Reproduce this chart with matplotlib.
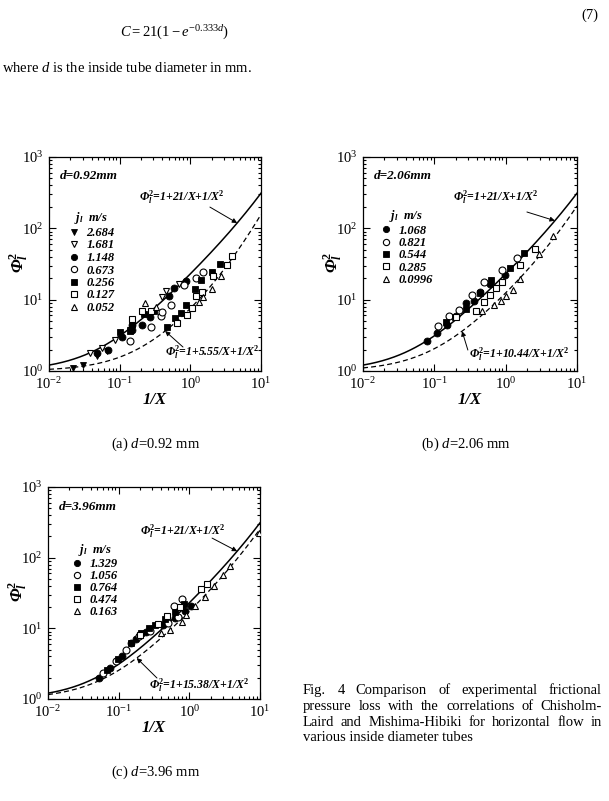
import numpy as np
import matplotlib
matplotlib.use('Agg')
import matplotlib.pyplot as plt
from matplotlib.font_manager import FontProperties
from matplotlib.ticker import LogLocator, NullFormatter

plt.rcParams['font.family'] = ['Liberation Serif', 'DejaVu Serif']
plt.rcParams['mathtext.fontset'] = 'custom'
plt.rcParams['mathtext.rm'] = 'Liberation Serif'
plt.rcParams['mathtext.it'] = 'Liberation Serif:italic'
plt.rcParams['mathtext.bf'] = 'Liberation Serif:bold'
plt.rcParams['mathtext.bfit'] = 'Liberation Serif:italic:bold'

# ---------------- data: panel (a) d=0.92 mm ----------------
a_2684_x = [0.022, 0.030, 0.048, 0.067]
a_2684_y = [1.09, 1.2, 1.6, 1.9]
a_1681_x = [0.038, 0.056, 0.087, 0.14, 0.40, 0.45, 0.69]
a_1681_y = [1.76, 2.13, 2.74, 3.75, 11.0, 13.2, 16.7]
a_1148_x = [0.048, 0.068, 0.107, 0.15, 0.15, 0.21, 0.27, 0.50, 0.59, 0.86]
a_1148_y = [1.81, 1.96, 3.02, 3.75, 4.46, 4.46, 5.66, 11.1, 14.7, 18.3]
a_0673_x = [0.14, 0.28, 0.38, 0.40, 0.53, 0.81, 1.19, 1.51]
a_0673_y = [2.6, 4.2, 5.9, 6.7, 8.3, 16.3, 20.3, 24.2]
a_0256_x = [0.102, 0.142, 0.15, 0.22, 0.31, 0.46, 0.60, 0.74, 0.87, 1.18, 1.40, 2.05, 2.63]
a_0256_y = [3.55, 3.67, 4.55, 6.2, 6.9, 4.2, 5.5, 6.4, 8.4, 14.2, 18.6, 24.5, 32.1]
a_0127_x = [0.148, 0.21, 0.28, 0.65, 0.89, 1.07, 1.19, 1.45, 2.1, 3.3, 3.9]
a_0127_y = [5.4, 7.0, 7.0, 4.65, 6.0, 7.7, 11.1, 12.7, 21.3, 31.0, 41.5]
a_0052_x = [0.23, 0.33, 1.32, 1.53, 2.05, 2.75]
a_0052_y = [8.9, 8.0, 9.2, 10.8, 13.9, 21.2]

# ---------------- data: panel (b) d=2.06 mm ----------------
b_1068_x = [0.078, 0.109, 0.15, 0.20, 0.28, 0.355, 0.44, 0.60, 0.98]
b_1068_y = [2.65, 3.4, 4.4, 5.97, 9.0, 9.7, 12.8, 16.4, 21.9]
b_0821_x = [0.113, 0.16, 0.22, 0.34, 0.49, 0.90, 1.45]
b_0821_y = [4.3, 5.85, 7.2, 11.8, 17.7, 25.9, 38.5]
b_0544_x = [0.146, 0.197, 0.28, 0.44, 0.63, 1.15, 1.80]
b_0544_y = [4.8, 5.7, 7.3, 12.4, 18.7, 28.1, 44.5]
b_0285_x = [0.20, 0.39, 0.49, 0.61, 0.74, 0.89, 1.58, 2.6]
b_0285_y = [5.7, 6.9, 9.4, 11.8, 14.7, 17.9, 30.4, 52.0]
b_00996_x = [0.47, 0.68, 0.87, 1.02, 1.26, 1.58, 2.9, 4.6]
b_00996_y = [6.9, 8.5, 9.7, 11.1, 13.5, 19.6, 43.5, 78.0]

# ---------------- data: panel (c) d=3.96 mm ----------------
c_1329_x = [0.052, 0.075, 0.11, 0.15, 0.178, 0.245, 0.43, 0.62, 0.86, 1.07]
c_1329_y = [2.0, 2.73, 4.1, 6.2, 7.1, 8.8, 11.0, 14.0, 17.4, 20.5]
c_1056_x = [0.061, 0.091, 0.126, 0.195, 0.276, 0.50, 0.69, 0.60, 0.78]
c_1056_y = [2.37, 3.4, 4.98, 7.9, 9.1, 11.9, 14.5, 20.6, 25.8]
c_0764_x = [0.069, 0.098, 0.15, 0.21, 0.27, 0.33, 0.45, 0.62, 0.85]
c_0764_y = [2.6, 3.7, 6.3, 8.7, 10.0, 11.0, 13.5, 17.0, 22.0]
c_0474_x = [0.20, 0.36, 0.48, 0.73, 1.44, 1.75]
c_0474_y = [8.1, 11.6, 14.8, 20.0, 35.5, 43.0]
c_0163_x = [0.40, 0.54, 0.78, 0.91, 1.22, 1.66, 2.24, 2.95, 3.75, 9.8]
c_0163_y = [8.6, 9.4, 12.3, 15.5, 21.0, 27.8, 39.6, 57.0, 76.0, 225.0]

# correlation coefficients
C_chisholm = 21.0
C_mishima = [5.55, 10.44, 15.38]
d_labels = ['d=0.92mm', 'd=2.06mm', 'd=3.96mm']
captions = ['(a) $d$=0.92 mm', '(b) $d$=2.06 mm', '(c) $d$=3.96 mm']

W, H = 609, 801
fig = plt.figure(figsize=(W / 100, H / 100), dpi=100)
fig.patch.set_facecolor('white')

bi = dict(fontweight='bold', style='italic')


def phi(x, C):
    return 1 + C * x + x ** 2


def make_axes(px_left, px_top, px_w, px_h):
    return fig.add_axes([px_left / W, (H - px_top - px_h) / H, px_w / W, px_h / H])


def setup(ax):
    ax.set_xscale('log')
    ax.set_yscale('log')
    ax.set_xlim(1e-2, 1e1)
    ax.set_ylim(1e0, 1e3)
    ax.xaxis.set_major_locator(LogLocator(base=10, numticks=10))
    ax.yaxis.set_major_locator(LogLocator(base=10, numticks=10))
    ax.xaxis.set_minor_locator(LogLocator(base=10, subs=np.arange(2, 10), numticks=20))
    ax.yaxis.set_minor_locator(LogLocator(base=10, subs=np.arange(2, 10), numticks=20))
    ax.xaxis.set_minor_formatter(NullFormatter())
    ax.yaxis.set_minor_formatter(NullFormatter())
    ax.tick_params(which='both', direction='in', top=True, right=True, width=0.8, colors='black')
    ax.tick_params(which='major', length=5, labelsize=10.5, pad=4)
    ax.tick_params(which='minor', length=2.5)
    for s in ax.spines.values():
        s.set_linewidth(0.9)
    ax.set_xlabel('1/X', fontsize=12, **bi)
    ax.set_ylabel(r'$\mathbfit{\Phi}_{\mathbfit{l}}^{\mathbf{2}}$', fontsize=12.5)
    ax.xaxis.set_label_coords(0.5, -0.10)
    ax.yaxis.set_label_coords(-0.09, 0.51)


def curves(ax, Cm, solid_txt, solid_tail, solid_head_x, dash_txt, dash_txt_pos, dash_tail, dash_head_x,
           solid_txt_pos):
    xg = np.logspace(-2, 1, 400)
    ax.plot(xg, phi(xg, C_chisholm), '-', color='black', lw=1.1, zorder=2)
    ax.plot(xg, phi(xg, Cm), '--', color='black', lw=0.9, dashes=(4, 2.5), zorder=2)
    ax.text(solid_txt_pos[0], solid_txt_pos[1], solid_txt, transform=ax.transAxes, ha='center', va='center',
            fontsize=8.5, **bi)
    ax.annotate('', xy=(solid_head_x, phi(solid_head_x, C_chisholm)), xycoords='data',
                xytext=solid_tail, textcoords='axes fraction',
                arrowprops=dict(arrowstyle='-|>', lw=0.7, color='black', mutation_scale=7, shrinkA=0, shrinkB=0))
    ax.text(dash_txt_pos[0], dash_txt_pos[1], dash_txt, transform=ax.transAxes, ha='center', va='center',
            fontsize=8.5, **bi)
    ax.annotate('', xy=(dash_head_x, phi(dash_head_x, Cm)), xycoords='data',
                xytext=dash_tail, textcoords='axes fraction',
                arrowprops=dict(arrowstyle='-|>', lw=0.7, color='black', mutation_scale=7, shrinkA=0, shrinkB=0))


def series(ax, x, y, marker, filled, label):
    if filled:
        ax.plot(x, y, linestyle='none', marker=marker, ms=5, mfc='black', mec='black', mew=0.6,
                label=label, zorder=3)
    else:
        ax.plot(x, y, linestyle='none', marker=marker, ms=5, mfc='white', mec='black', mew=0.8,
                label=label, zorder=3)


leg_font = FontProperties(family='Liberation Serif', style='italic', weight='bold', size=9)
title_txt = r'$\mathbfit{j}_{\mathbfit{l}}$  m/s'


def legend(ax, anchor, spacing):
    lg = ax.legend(loc='upper left', bbox_to_anchor=anchor, frameon=False, prop=leg_font,
                   title=title_txt, title_fontproperties=leg_font, handlelength=0.9, handletextpad=0.55,
                   labelspacing=spacing, borderpad=0, borderaxespad=0, markerscale=0.9)
    lg._legend_box.align = 'center'


phi_sol = r'$\mathbfit{\Phi}_{\mathbfit{l}}^{\mathbf{2}}$=1+21/X+1/X$^{\mathbf{2}}$'


def phi_m(c):
    return r'$\mathbfit{\Phi}_{\mathbfit{l}}^{\mathbf{2}}$=1+' + c + r'/X+1/X$^{\mathbf{2}}$'


# ---------------- panel (a) ----------------
axa = make_axes(49, 157, 212, 214)
setup(axa)
curves(axa, C_mishima[0], phi_sol, (0.759, 0.766), 4.6, phi_m('5.55'), (0.77, 0.084), (0.632, 0.112), 0.44,
       (0.627, 0.808))
series(axa, a_2684_x, a_2684_y, 'v', True, '2.684')
series(axa, a_1681_x, a_1681_y, 'v', False, '1.681')
series(axa, a_1148_x, a_1148_y, 'o', True, '1.148')
series(axa, a_0673_x, a_0673_y, 'o', False, '0.673')
series(axa, a_0256_x, a_0256_y, 's', True, '0.256')
series(axa, a_0127_x, a_0127_y, 's', False, '0.127')
series(axa, a_0052_x, a_0052_y, '^', False, '0.052')
axa.text(0.05, 0.91, d_labels[0], transform=axa.transAxes, fontsize=9.5, va='center', **bi)
legend(axa, (0.09, 0.75), 0.04)

# ---------------- panel (b) ----------------
axb = make_axes(363, 157, 214, 214)
setup(axb)
curves(axb, C_mishima[1], phi_sol, (0.766, 0.743), 4.9, phi_m('10.44'), (0.729, 0.075), (0.49, 0.098), 0.245,
       (0.621, 0.808))
series(axb, b_1068_x, b_1068_y, 'o', True, '1.068')
series(axb, b_0821_x, b_0821_y, 'o', False, '0.821')
series(axb, b_0544_x, b_0544_y, 's', True, '0.544')
series(axb, b_0285_x, b_0285_y, 's', False, '0.285')
series(axb, b_00996_x, b_00996_y, '^', False, '0.0996')
axb.text(0.05, 0.91, d_labels[1], transform=axb.transAxes, fontsize=9.5, va='center', **bi)
legend(axb, (0.08, 0.76), 0.03)

# ---------------- panel (c) ----------------
axc = make_axes(48, 487, 212, 212)
setup(axc)
curves(axc, C_mishima[2], phi_sol, (0.774, 0.759), 4.75, phi_m('15.38'), (0.712, 0.061), (0.514, 0.099), 0.18,
       (0.637, 0.788))
series(axc, c_1329_x, c_1329_y, 'o', True, '1.329')
series(axc, c_1056_x, c_1056_y, 'o', False, '1.056')
series(axc, c_0764_x, c_0764_y, 's', True, '0.764')
series(axc, c_0474_x, c_0474_y, 's', False, '0.474')
series(axc, c_0163_x, c_0163_y, '^', False, '0.163')
axc.text(0.05, 0.905, d_labels[2], transform=axc.transAxes, fontsize=9.5, va='center', **bi)
legend(axc, (0.11, 0.74), 0.0)

# ---------------- page text ----------------
fs_body = 10.5
fig.text(175 / W, 1 - 37 / H, r'$C = 21(1-e^{-0.333d})$', ha='center', va='baseline', fontsize=fs_body)
fig.text(598 / W, 1 - 19 / H, '(7)', ha='right', va='baseline', fontsize=fs_body)
fig.text(2 / W, 1 - 72 / H, r'where $d$ is the inside tube diameter in mm.', ha='left', va='baseline',
         fontsize=fs_body)

fig.text(156 / W, 1 - 448 / H, captions[0], ha='center', va='baseline', fontsize=fs_body)
fig.text(466 / W, 1 - 448 / H, captions[1], ha='center', va='baseline', fontsize=fs_body)
fig.text(156 / W, 1 - 776 / H, captions[2], ha='center', va='baseline', fontsize=fs_body)

cap_lines = ['Fig. 4  Comparison of experimental frictional',
             'pressure loss with the correlations of Chisholm-',
             'Laird and Mishima-Hibiki for horizontal flow in',
             'various inside diameter tubes']
cap_base = [694, 710, 726, 741]
renderer = fig.canvas.get_renderer()
x0, x1 = 303, 602
fs_cap = 10.5
for i, (line, yb) in enumerate(zip(cap_lines, cap_base)):
    if i == len(cap_lines) - 1:
        fig.text(x0 / W, 1 - yb / H, line, ha='left', va='baseline', fontsize=fs_cap)
        continue
    words = line.split()
    ts = [fig.text(0, 1 - yb / H, w, ha='left', va='baseline', fontsize=fs_cap) for w in words]
    widths = [t.get_window_extent(renderer).width for t in ts]
    gap = ((x1 - x0) - sum(widths)) / (len(words) - 1)
    pos = x0
    for t, w in zip(ts, widths):
        t.set_x(pos / W)
        pos += w + gap

fig.savefig('out.png', dpi=100, facecolor='white')
